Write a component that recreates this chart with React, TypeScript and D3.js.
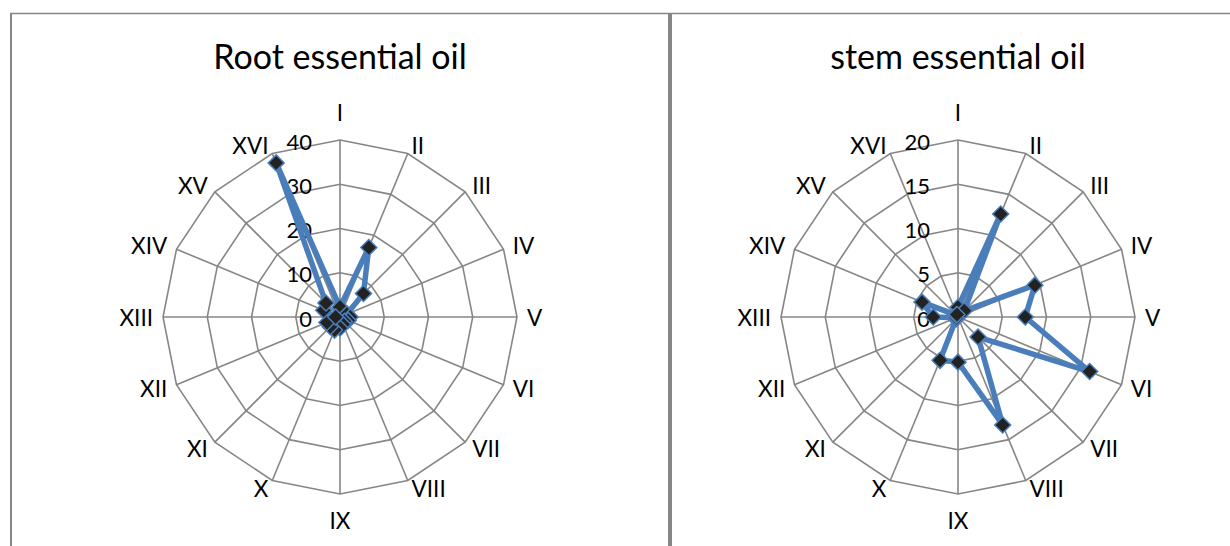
import React from 'react';
import * as d3 from 'd3';

const axisLabels = ['I', 'II', 'III', 'IV', 'V', 'VI', 'VII', 'VIII', 'IX', 'X', 'XI', 'XII', 'XIII', 'XIV', 'XV', 'XVI'];
const rootValues = [2.2, 17, 7.5, 1.7, 2.3, 2.0, 1.4, 1.8, 2.5, 3.2, 3.1, 3.2, 1.0, 4.0, 4.5, 37.7];
const stemValues = [1.1, 12.6, 1.0, 9.4, 7.6, 16.1, 3.2, 13.2, 5.1, 5.3, 0.3, 0.2, 2.8, 4.4, 0.3, 0.3];
const rootTicks = [0, 10, 20, 30, 40];
const stemTicks = [0, 5, 10, 15, 20];

const W = 1230;
const H = 546;
const R = 177;
const FONT = "Lato, 'Open Sans', sans-serif";
const GRID = '#868686';
const BLUE = '#4A7EBB';

let ctx: CanvasRenderingContext2D | null = null;
function measure(text: string, size: number): number {
  if (!ctx) {
    const c = document.createElement('canvas');
    ctx = c.getContext('2d');
  }
  if (!ctx) return text.length * size * 0.5;
  ctx.font = `${size}px Lato`;
  return ctx.measureText(text).width;
}

function Radar({ cx, cy, title, values, ticks }: { cx: number; cy: number; title: string; values: number[]; ticks: number[] }) {
  const max = ticks[ticks.length - 1];
  const r = d3.scaleLinear().domain([0, max]).range([0, R]);
  const n = axisLabels.length;
  const angle = d3.scaleLinear().domain([0, n]).range([0, 2 * Math.PI]);
  const ring = (v: number) =>
    d3.lineRadial<string>().angle((_, i) => angle(i)).radius(() => r(v)).curve(d3.curveLinearClosed)(axisLabels) || '';
  const dataPath =
    d3.lineRadial<number>().angle((_, i) => angle(i)).radius((d) => r(d)).curve(d3.curveLinearClosed)(values) || '';
  const labelSize = 22.5;
  const diamond = 'M0,-8L8,0L0,8L-8,0Z';
  return (
    <g>
      <text x={cx} y={69} textAnchor="middle" fontFamily={FONT} fontSize={34} fill="#000">
        {title}
      </text>
      <g transform={`translate(${cx},${cy})`}>
        {ticks.slice(1).map((t) => (
          <path key={'ring' + t} d={ring(t)} fill="none" stroke={GRID} strokeWidth={1.6} />
        ))}
        {axisLabels.map((_, i) => {
          const a = angle(i);
          return (
            <line
              key={'sp' + i}
              x1={0}
              y1={0}
              x2={R * Math.sin(a)}
              y2={-R * Math.cos(a)}
              stroke={GRID}
              strokeWidth={1.6}
            />
          );
        })}
        {axisLabels.map((lab, i) => {
          const a = angle(i);
          const s = Math.sin(a);
          const c = Math.cos(a);
          const w = measure(lab, labelSize);
          let x = R * s;
          let y = -R * c;
          if (Math.abs(s) < 0.01) {
            y += c > 0 ? -28 : 26;
          } else {
            x += s * 10 + Math.sign(s) * (w / 2);
            y += -c * 9;
          }
          return (
            <text
              key={'lab' + i}
              x={x}
              y={y}
              textAnchor="middle"
              dominantBaseline="central"
              fontFamily={FONT}
              fontSize={labelSize}
              fill="#000"
            >
              {lab}
            </text>
          );
        })}
        {ticks.map((t) => (
          <text
            key={'tk' + t}
            x={-28}
            y={-r(t) + 1}
            textAnchor="end"
            dominantBaseline="central"
            fontFamily={FONT}
            fontSize={22}
            fill="#000"
          >
            {t}
          </text>
        ))}
        <path d={dataPath} fill="none" stroke={BLUE} strokeWidth={5.5} strokeLinejoin="round" />
        {values.map((v, i) => {
          const a = angle(i);
          return (
            <path
              key={'m' + i}
              d={diamond}
              transform={`translate(${r(v) * Math.sin(a)},${-r(v) * Math.cos(a)})`}
              fill="#222222"
              stroke={BLUE}
              strokeWidth={1.5}
            />
          );
        })}
      </g>
    </g>
  );
}

export default function App() {
  return (
    <svg
      width={W}
      height={H}
      style={{ position: 'absolute', left: 0, top: 0, background: '#fff' }}
    >
      <rect x={0} y={0} width={W} height={H} fill="#fff" />
      <line x1={10} y1={13.5} x2={W} y2={13.5} stroke={GRID} strokeWidth={1.5} />
      <line x1={11} y1={13} x2={11} y2={H} stroke={GRID} strokeWidth={2} />
      <line x1={670} y1={13} x2={670} y2={H} stroke={GRID} strokeWidth={4} />
      <Radar cx={340} cy={317} title="Root essential oil" values={rootValues} ticks={rootTicks} />
      <Radar cx={958} cy={317} title="stem essential oil" values={stemValues} ticks={stemTicks} />
    </svg>
  );
}
